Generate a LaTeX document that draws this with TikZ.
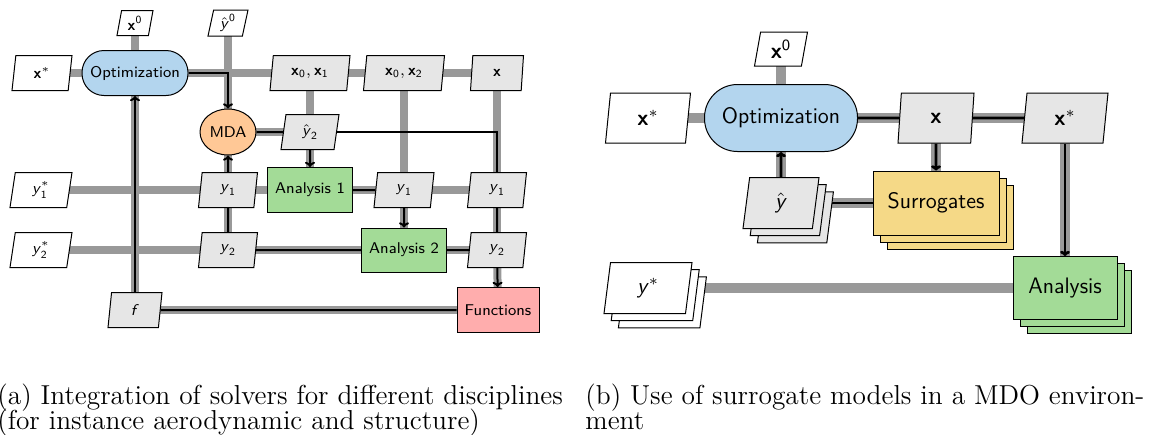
\RequirePackage{fix-cm}
\documentclass[tikz,border=0pt]{standalone}
\usepackage{amsmath}
\usetikzlibrary{shapes.geometric,shadows,arrows.meta}
\pgfdeclarelayer{bg}
\pgfsetlayers{bg,main}
\definecolor{optblue}{RGB}{179,213,238}
\definecolor{mdaorange}{RGB}{255,200,150}
\definecolor{angreen}{RGB}{163,219,151}
\definecolor{funcred}{RGB}{255,173,173}
\definecolor{suryellow}{RGB}{245,217,135}
\definecolor{dgray}{RGB}{230,230,230}
\definecolor{lgray}{RGB}{153,153,153}
\newcommand{\bxv}{\textbf{\textsf{x}}}
\newcommand{\syv}{\textsf{\textit{y}}}
\newcommand{\sfn}[1]{\textsf{#1}}
\newcommand{\captfont}{\fontsize{13.7}{12.5}\selectfont\lineskiplimit=-20pt\relax\lineskip=0pt\relax}
\tikzset{
  fa/.style={font=\sffamily\fontsize{7.8}{9}\selectfont},
  fb/.style={font=\sffamily\fontsize{11.2}{13}\selectfont},
  datab/.style={trapezium, trapezium left angle=72, trapezium right angle=108,
    trapezium stretches body, draw, fill=dgray, inner sep=0pt, line width=0.5pt},
  inpb/.style={datab, fill=white},
  optb/.style={rectangle, draw, fill=optblue, inner sep=0pt, line width=0.5pt},
  anb/.style={rectangle, draw, fill=angreen, inner sep=0pt, line width=0.5pt},
  dla/.style={line width=4pt, draw=lgray},
  dlb/.style={line width=5pt, draw=lgray},
  pla/.style={line width=1pt, draw=black},
  plb/.style={line width=1.4pt, draw=black},
  arr/.style={-{To[length=2.6pt,width=5pt]}},
  stackof/.style={
    copy shadow={shadow xshift=7.2pt, shadow yshift=-7.2pt, fill=#1, draw=black, line width=0.5pt},
    copy shadow={shadow xshift=3.6pt, shadow yshift=-3.6pt, fill=#1, draw=black, line width=0.5pt}},
  capt/.style={inner sep=0pt, align=left, font=\captfont}
}
\begin{document}
\begin{tikzpicture}[x=0.5pt,y=-0.5pt]
\useasboundingbox (0,0) rectangle (1159,434);
% ---------------- (a) ----------------
\begin{scope}[fa]
\node[inpb, minimum width=30pt, minimum height=17.5pt] (xs) at (42,73) {$\bxv^{*}$};
\node[inpb, minimum width=18pt, minimum height=12.5pt] (x0) at (135,23) {$\bxv^{\sfn{0}}$};
\node[inpb, minimum width=20pt, minimum height=13pt] (yh0) at (228,23) {$\hat{\syv}^{\sfn{0}}$};
\node[optb, rounded corners=11pt, minimum width=53pt, minimum height=22.5pt] (opt) at (135,73) {Optimization};
\node[datab, minimum width=40pt, minimum height=17.5pt] (x01) at (310,73) {$\bxv_{\sfn{0}},\bxv_{\sfn{1}}$};
\node[datab, minimum width=40.5pt, minimum height=17.5pt] (x02) at (404,73) {$\bxv_{\sfn{0}},\bxv_{\sfn{2}}$};
\node[datab, minimum width=26.5pt, minimum height=17.5pt] (xx) at (497,73) {$\bxv$};
\node[ellipse, draw, fill=mdaorange, inner sep=0pt, line width=0.5pt, minimum width=28pt, minimum height=23pt] (mda) at (228,132) {MDA};
\node[datab, minimum width=29pt, minimum height=17.5pt] (yh2) at (310,132) {$\hat{\syv}_{\sfn{2}}$};
\node[anb, minimum width=42.5pt, minimum height=22.5pt] (an1) at (310,190) {Analysis 1};
\node[inpb, minimum width=31pt, minimum height=17.5pt] (y1s) at (41,190) {$\syv^{*}_{\sfn{1}}$};
\node[datab, minimum width=29.5pt, minimum height=17.5pt] (y1b) at (228,190) {$\syv_{\sfn{1}}$};
\node[datab, minimum width=30pt, minimum height=17.5pt] (y1c) at (404,190) {$\syv_{\sfn{1}}$};
\node[datab, minimum width=29.5pt, minimum height=17.5pt] (y1d) at (497,190) {$\syv_{\sfn{1}}$};
\node[inpb, minimum width=31pt, minimum height=17.5pt] (y2s) at (41,250) {$\syv^{*}_{\sfn{2}}$};
\node[datab, minimum width=29.5pt, minimum height=17.5pt] (y2b) at (228,250) {$\syv_{\sfn{2}}$};
\node[anb, minimum width=42.5pt, minimum height=22pt] (an2) at (404,250) {Analysis 2};
\node[datab, minimum width=29.5pt, minimum height=17.5pt] (y2d) at (497,250) {$\syv_{\sfn{2}}$};
\node[datab, minimum width=27pt, minimum height=17.5pt] (f) at (135,310) {$\textsf{\textit{f}}$};
\node[rectangle, draw, fill=funcred, inner sep=0pt, line width=0.5pt, minimum width=41pt, minimum height=22.5pt] (func) at (498,310) {Functions};
\end{scope}
\begin{pgfonlayer}{bg}
\draw[dla] (xs.center) -- (xx.center);
\draw[dla] (x0.center) -- (opt.center);
\draw[dla] (opt.center) -- (f.center);
\draw[dla] (yh0.center) -- (y2b.center);
\draw[dla] (x01.center) -- (an1.center);
\draw[dla] (x02.center) -- (an2.center);
\draw[dla] (xx.center) -- (y2d.center);
\draw[dla] (y2d.center) -- (func.center);
\draw[dla] (mda.center) -- (yh2.center);
\draw[dla] (y1s.center) -- (y1d.center);
\draw[dla] (y2s.center) -- (y2d.center);
\draw[dla] (f.center) -- (func.center);
\draw[pla,arr] (opt) -| (mda);
\draw[pla] (mda) -- (yh2);
\draw[pla,arr] (yh2) -- (an1);
\draw[pla] (an1) -- (y1c);
\draw[pla,arr] (y1c) -- (an2);
\draw[pla] (an2) -- (y2b);
\draw[pla] (y2b) -- (y1b);
\draw[pla,arr] (y1b) -- (mda);
\draw[pla] (yh2) -| (y1d);
\draw[pla] (an2) -- (y2d);
\draw[pla] (y1d) -- (y2d);
\draw[pla,arr] (y2d) -- (func);
\draw[pla] (func) -- (f);
\draw[pla,arr] (f) -- (opt);
\end{pgfonlayer}
% ---------------- (b) ----------------
\begin{scope}[fb]
\node[inpb, minimum width=42.5pt, minimum height=25pt] (bxs) at (648,118) {$\bxv^{*}$};
\node[inpb, minimum width=26.5pt, minimum height=17pt] (bx0) at (781,49) {$\bxv^{\sfn{0}}$};
\node[optb, rounded corners=16.5pt, minimum width=76.5pt, minimum height=33.5pt] (bopt) at (781,118) {Optimization};
\node[datab, minimum width=38pt, minimum height=25pt] (bx) at (936,118) {$\bxv$};
\node[datab, minimum width=43pt, minimum height=25pt] (bxst) at (1065,118) {$\bxv^{*}$};
\node[datab, stackof=dgray, minimum width=38pt, minimum height=25.5pt] (byh) at (781,203) {$\hat{\syv}$};
\node[rectangle, draw, fill=suryellow, stackof=suryellow, inner sep=0pt, line width=0.5pt, minimum width=63pt, minimum height=32pt] (bsur) at (936,203) {Surrogates};
\node[inpb, stackof=white, minimum width=44pt, minimum height=25.5pt] (bys) at (648,288) {$\syv^{*}$};
\node[anb, stackof=angreen, minimum width=52pt, minimum height=31.5pt] (ban) at (1065,288) {Analysis};
\end{scope}
\begin{pgfonlayer}{bg}
\draw[dlb] (bxs.center) -- (bxst.center);
\draw[dlb] (bx0.center) -- (bopt.center);
\draw[dlb] (byh.center) -- (bopt.center);
\draw[dlb] (byh.center) -- (bsur.center);
\draw[dlb] (bx.center) -- (bsur.center);
\draw[dlb] (bxst.center) -- (ban.center);
\draw[dlb] (bys.center) -- (ban.center);
\draw[plb] (bopt) -- (bx);
\draw[plb] (bx) -- (bxst);
\draw[plb] (byh) -- (bsur);
\draw[plb,arr] (byh) -- (bopt);
\draw[plb,arr] (bx) -- (bsur);
\draw[plb,arr] (bxst) -- (ban);
\end{pgfonlayer}
% ---------------- captions ----------------
\node[capt, anchor=base west] (capa) at (-3,429) {(a) Integration of solvers for different disciplines\\(for instance aerodynamic and structure)};
\node[capt, anchor=base west] (capb) at (585,429) {(b) Use of surrogate models in a MDO environ-\\ment};
\end{tikzpicture}
\end{document}
